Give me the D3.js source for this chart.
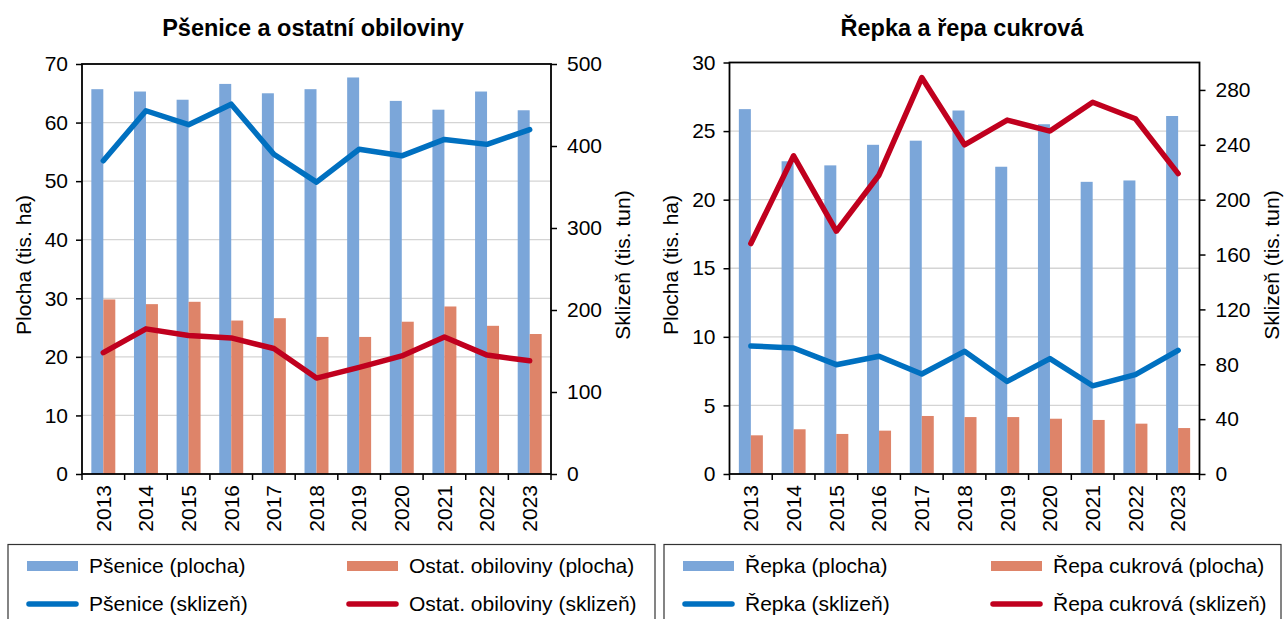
<!DOCTYPE html>
<html>
<head>
<meta charset="utf-8">
<script src="https://cdn.jsdelivr.net/npm/d3@7"></script>
<style>
  html, body { margin: 0; padding: 0; background: #fff; }
  svg text { font-family: "Liberation Sans", Arial, sans-serif; fill: #000; }
</style>
</head>
<body>
<svg id="chart" width="1284" height="619"></svg>
<script>
// ---- data ----
const years = ["2013","2014","2015","2016","2017","2018","2019","2020","2021","2022","2023"];

const wheatArea    = [65.7, 65.3, 63.9, 66.6, 65.0, 65.7, 67.7, 63.7, 62.2, 65.3, 62.1];
const otherArea    = [29.8, 29.0, 29.4, 26.2, 26.6, 23.4, 23.4, 26.0, 28.6, 25.3, 23.9];
const wheatHarvest = [382, 443, 426, 451, 390, 356, 396, 388, 408, 402, 420];
const otherHarvest = [148, 177, 169, 166, 153, 117, 130, 144, 167, 145, 138];

const rapeArea     = [26.6, 22.8, 22.5, 24.0, 24.3, 26.5, 22.4, 25.5, 21.3, 21.4, 26.1];
const beetArea     = [2.82, 3.26, 2.92, 3.16, 4.23, 4.15, 4.15, 4.03, 3.94, 3.67, 3.35];
const rapeHarvest  = [93.4, 91.9, 79.7, 85.8, 72.9, 89.4, 67.5, 84.1, 64.3, 72.4, 90.2];
const beetHarvest  = [168, 232, 177, 218, 289, 240, 258, 250, 271, 259, 219];

const leftTicksA  = [0, 10, 20, 30, 40, 50, 60, 70];
const rightTicksA = [0, 100, 200, 300, 400, 500];
const leftTicksB  = [0, 5, 10, 15, 20, 25, 30];
const rightTicksB = [0, 40, 80, 120, 160, 200, 240, 280];

const titleA = "Pšenice a ostatní obiloviny";
const titleB = "Řepka a řepa cukrová";
const yTitleL = "Plocha (tis. ha)";
const yTitleR = "Sklizeň (tis. tun)";
const legendA = ["Pšenice (plocha)", "Ostat. obiloviny (plocha)", "Pšenice (sklizeň)", "Ostat. obiloviny (sklizeň)"];
const legendB = ["Řepka (plocha)", "Řepa cukrová (plocha)", "Řepka (sklizeň)", "Řepa cukrová (sklizeň)"];

// ---- styles ----
const C = { barBlue: "#7BA6D9", barOrange: "#DE8469", lineBlue: "#0070C0", lineRed: "#C0001E", grid: "#D4D4D4" };

const svg = d3.select("#chart");

function drawPanel(cfg) {
  const g = svg.append("g");
  const x = d3.scaleBand().domain(years).range([cfg.left, cfg.right]).padding(0);
  const bw = x.bandwidth();
  const x1 = d3.scaleBand().domain(["a", "b"]).range([bw * 0.219, bw * 0.781]).padding(0);
  const yL = d3.scaleLinear().domain(cfg.leftDomain).range([cfg.bottom, cfg.top]);
  const yR = d3.scaleLinear().domain(cfg.rightDomain).range([cfg.bottom, cfg.top]);

  // gridlines
  g.append("g").selectAll("line").data(cfg.leftTicks.filter(d => d > 0 && d < cfg.leftDomain[1]))
    .join("line")
    .attr("x1", cfg.left).attr("x2", cfg.right)
    .attr("y1", d => yL(d)).attr("y2", d => yL(d))
    .attr("stroke", C.grid).attr("stroke-width", 1.3);

  // bars
  const bars = g.append("g");
  bars.selectAll("rect.a").data(years).join("rect").attr("class", "a")
    .attr("x", d => x(d) + x1("a")).attr("width", x1.bandwidth())
    .attr("y", (d, i) => yL(cfg.barA[i])).attr("height", (d, i) => yL(0) - yL(cfg.barA[i]))
    .attr("fill", C.barBlue);
  bars.selectAll("rect.b").data(years).join("rect").attr("class", "b")
    .attr("x", d => x(d) + x1("b")).attr("width", x1.bandwidth())
    .attr("y", (d, i) => yL(cfg.barB[i])).attr("height", (d, i) => yL(0) - yL(cfg.barB[i]))
    .attr("fill", C.barOrange);

  // axes
  const axL = d3.axisLeft(yL).tickValues(cfg.leftTicks).tickSize(6).tickPadding(8);
  const axR = d3.axisRight(yR).tickValues(cfg.rightTicks).tickSize(6).tickPadding(10);
  const axB = d3.axisBottom(x).tickSize(0).tickPadding(0);

  const gl = g.append("g").attr("transform", `translate(${cfg.left},0)`).call(axL);
  const gr = g.append("g").attr("transform", `translate(${cfg.right},0)`).call(axR);
  [gl, gr].forEach(a => {
    a.select(".domain").remove();
    a.selectAll(".tick line").attr("stroke", "#000").attr("stroke-width", 1.5);
    a.selectAll(".tick text").attr("font-size", 21).attr("font-family", "Liberation Sans, Arial, sans-serif");
  });

  const gb = g.append("g").attr("transform", `translate(0,${cfg.bottom})`).call(axB);
  gb.select(".domain").remove();
  gb.selectAll(".tick line").remove();
  gb.selectAll(".tick text")
    .attr("font-size", 21).attr("font-family", "Liberation Sans, Arial, sans-serif")
    .attr("transform", "rotate(-90)")
    .attr("text-anchor", "end")
    .attr("x", -11).attr("y", 0).attr("dy", "0.35em");
  // category boundary ticks
  const bounds = years.map(d => x(d)).concat([cfg.right]);
  g.append("g").selectAll("line").data(bounds).join("line")
    .attr("x1", d => d).attr("x2", d => d)
    .attr("y1", cfg.bottom).attr("y2", cfg.bottom + 6)
    .attr("stroke", "#000").attr("stroke-width", 1.5);

  // lines
  const line = d3.line().x((d, i) => x(years[i]) + bw / 2).y(d => yR(d));
  g.append("path").datum(cfg.lineA).attr("d", line)
    .attr("fill", "none").attr("stroke", C.lineBlue).attr("stroke-width", 5.5)
    .attr("stroke-linejoin", "round").attr("stroke-linecap", "round");
  g.append("path").datum(cfg.lineB).attr("d", line)
    .attr("fill", "none").attr("stroke", C.lineRed).attr("stroke-width", 5.5)
    .attr("stroke-linejoin", "round").attr("stroke-linecap", "round");

  // frame
  g.append("rect").attr("x", cfg.left).attr("y", cfg.top)
    .attr("width", cfg.right - cfg.left).attr("height", cfg.bottom - cfg.top)
    .attr("fill", "none").attr("stroke", "#000").attr("stroke-width", 1.8);

  // title
  g.append("text").attr("x", cfg.titleX).attr("y", 36).attr("text-anchor", "middle")
    .attr("font-size", 23.5).attr("font-weight", "bold").text(cfg.title);

  // axis titles
  g.append("text").attr("transform", `translate(${cfg.ytlX},265) rotate(-90)`)
    .attr("text-anchor", "middle").attr("dy", "0.35em").attr("font-size", 21).text(yTitleL);
  g.append("text").attr("transform", `translate(${cfg.ytrX},265) rotate(-90)`)
    .attr("text-anchor", "middle").attr("dy", "0.35em").attr("font-size", 21).text(yTitleR);

  // legend
  const lg = g.append("g");
  lg.append("rect").attr("x", cfg.legX0).attr("y", 544.5)
    .attr("width", cfg.legX1 - cfg.legX0).attr("height", 90)
    .attr("fill", "none").attr("stroke", "#333").attr("stroke-width", 1.2);
  const items = [
    { col: 0, row: 0, type: "bar", color: C.barBlue, text: cfg.legend[0] },
    { col: 1, row: 0, type: "bar", color: C.barOrange, text: cfg.legend[1] },
    { col: 0, row: 1, type: "line", color: C.lineBlue, text: cfg.legend[2] },
    { col: 1, row: 1, type: "line", color: C.lineRed, text: cfg.legend[3] }
  ];
  const rowY = [566, 604];
  items.forEach(it => {
    const sx = cfg.legCols[it.col];
    const cy = rowY[it.row];
    if (it.type === "bar") {
      lg.append("rect").attr("x", sx).attr("y", cy - 5).attr("width", 51).attr("height", 10).attr("fill", it.color);
    } else {
      lg.append("line").attr("x1", sx + 2).attr("x2", sx + 49).attr("y1", cy).attr("y2", cy)
        .attr("stroke", it.color).attr("stroke-width", 5.5).attr("stroke-linecap", "round");
    }
    lg.append("text").attr("x", sx + 62).attr("y", cy).attr("dy", "0.35em")
      .attr("font-size", 21).text(it.text);
  });
}

drawPanel({
  left: 82, right: 551, top: 64, bottom: 474,
  leftDomain: [0, 70], rightDomain: [0, 500],
  leftTicks: leftTicksA, rightTicks: rightTicksA,
  barA: wheatArea, barB: otherArea, lineA: wheatHarvest, lineB: otherHarvest,
  title: titleA, titleX: 313, ytlX: 24, ytrX: 623,
  legX0: 8, legX1: 655, legCols: [27, 347], legend: legendA
});

drawPanel({
  left: 729.5, right: 1199.5, top: 62.5, bottom: 474,
  leftDomain: [0, 30], rightDomain: [0, 300],
  leftTicks: leftTicksB, rightTicks: rightTicksB,
  barA: rapeArea, barB: beetArea, lineA: rapeHarvest, lineB: beetHarvest,
  title: titleB, titleX: 962, ytlX: 671, ytrX: 1272,
  legX0: 664, legX1: 1281, legCols: [683, 991], legend: legendB
});
</script>
</body>
</html>
